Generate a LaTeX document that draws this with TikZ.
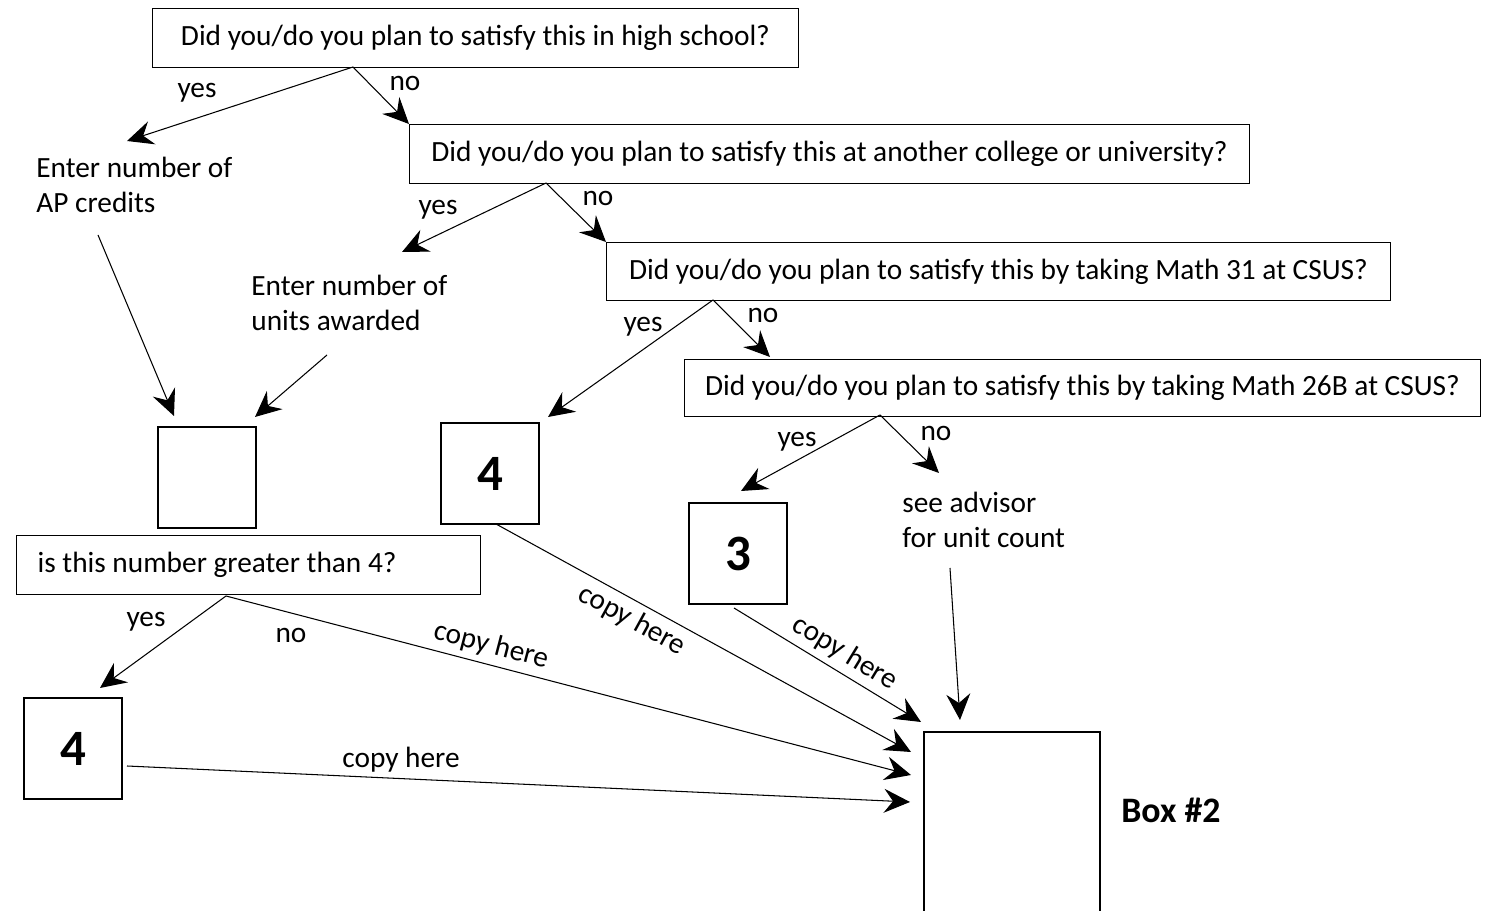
\documentclass[tikz,border=0pt]{standalone}
\usepackage{fontspec}
\setmainfont{Carlito}
\usetikzlibrary{arrows.meta}

\begin{document}
\begin{tikzpicture}[x=0.02cm,y=-0.02cm,
  font=\fontsize{16.7}{20.4}\selectfont,
  qbox/.style={draw,line width=0.7pt,anchor=north west,minimum height=1.18cm,inner xsep=0.34cm,inner ysep=0pt,align=flush left},
  numbox/.style={draw,line width=1.4pt,anchor=north west,minimum width=1.96cm,minimum height=2.02cm,inner sep=0pt,font=\fontsize{29}{34}\selectfont\bfseries},
  arr/.style={-{Stealth[length=0.52cm,width=0.48cm,inset=0.18cm]},line width=0.6pt},
  note/.style={align=flush left,anchor=west,inner sep=0pt}]
\clip (0,0) rectangle (1489,911);

% questions
\node[qbox,minimum width=12.92cm] (qa) at (152,8) {Did you/do you plan to satisfy this in high school?};
\node[qbox,minimum width=16.8cm] (qb) at (409,124) {Did you/do you plan to satisfy this at another college or university?};
\node[qbox,minimum width=15.68cm,minimum height=1.16cm] (qc) at (606,242) {Did you/do you plan to satisfy this by taking Math 31 at CSUS?};
\node[qbox,minimum width=15.92cm,minimum height=1.14cm] (qd) at (684,359) {Did you/do you plan to satisfy this by taking Math 26B at CSUS?};
\node[qbox,inner xsep=0.42cm,text width=8.44cm] (qe) at (16,535) {is this number greater than 4?};

% boxes
\node[numbox] (ap) at (157,426) {};
\node[numbox] (four1) at (440,422) {4};
\node[numbox] (three) at (688,502) {3};
\node[numbox] (four2) at (23,697) {4};
\node[draw,line width=1.4pt,anchor=north west,minimum width=3.52cm,minimum height=3.8cm] (boxtwo) at (923,731) {};

% notes
\node[note] (apnote) at (36,185) {Enter number of\\AP credits};
\node[note] (unitnote) at (251,303) {Enter number of\\units awarded};
\node[note] (advnote) at (902,520) {see advisor\\for unit count};
\node[note,font=\fontsize{20.4}{24}\selectfont\bfseries] (boxlbl) at (1121,810) {Box \#2};

% yes/no
\node (ya) at (197,93) {yes};
\node (na) at (405,83) {no};
\node (yb) at (438,210) {yes};
\node (nb) at (598,198) {no};
\node (yc) at (643,327) {yes};
\node (nc) at (763,315) {no};
\node (yd) at (797,442) {yes};
\node (nd) at (936,433) {no};
\node (ye) at (146,622) {yes};
\node (ne) at (291,635) {no};

% split points and free ends
\coordinate (qa-s) at (353,67);
\coordinate (qb-s) at (546,183);
\coordinate (qc-s) at (713,300);
\coordinate (qd-s) at (880,415);
\coordinate (qe-s) at (226,596);
\coordinate (ya-t) at (127,141);
\coordinate (yb-t) at (402,252);
\coordinate (yc-t) at (548,417);
\coordinate (nc-t) at (770,357);
\coordinate (yd-t) at (741,491);
\coordinate (nd-t) at (939,473);
\coordinate (ye-t) at (100,688);
\coordinate (ap-s) at (98,235);
\coordinate (ap-t) at (174,416);
\coordinate (un-s) at (327,355);
\coordinate (un-t) at (255,417);
\coordinate (four1-s) at (496,524);
\coordinate (three-s) at (734,608);
\coordinate (four2-s) at (127,766);
\coordinate (adv-s) at (950,568);
\coordinate (in1) at (911,775);
\coordinate (in2) at (910,802);
\coordinate (in3) at (911,752);
\coordinate (in4) at (921,722);
\coordinate (in5) at (960,720);

\draw[arr] (qa-s) -- (ya-t);
\draw[arr] (qa-s) -- (qb.north west);
\draw[arr] (qb-s) -- (yb-t);
\draw[arr] (qb-s) -- (qc.north west);
\draw[arr] (qc-s) -- (yc-t);
\draw[arr] (qc-s) -- (nc-t);
\draw[arr] (qd-s) -- (yd-t);
\draw[arr] (qd-s) -- (nd-t);

\draw[arr] (ap-s) -- (ap-t);
\draw[arr] (un-s) -- (un-t);
\draw[arr] (qe-s) -- (ye-t);

\draw[arr] (qe-s) -- node[sloped,above,pos=0.38] (c1) {copy here} (in1);
\draw[arr] (four2-s) -- node[above,pos=0.35] (c2) {copy here} (in2);
\draw[arr] (four1-s) -- node[sloped,below,pos=0.35] (c3) {copy here} (in3);
\draw[arr] (three-s) -- node[sloped,above,pos=0.54] (c4) {copy here} (in4);
\draw[arr] (adv-s) -- (in5);
\end{tikzpicture}
\end{document}
